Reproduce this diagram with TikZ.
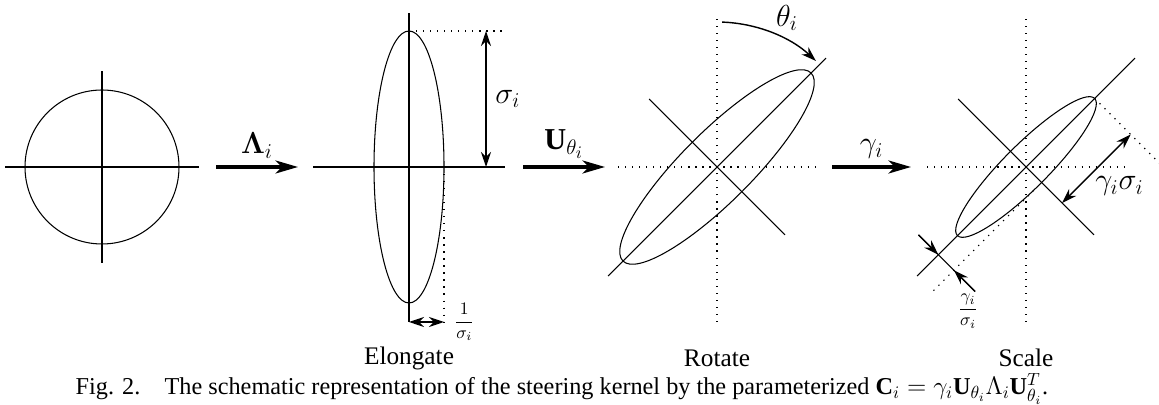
\documentclass[tikz,border=0pt]{standalone}
\usepackage{amsmath}
\usepackage{fontspec}
\setmainfont{Liberation Serif}
\usetikzlibrary{arrows.meta, calc}
\tikzset{
  every picture/.style={line width=0.6pt},
  axis/.style={line width=0.6pt},
  dotline/.style={line width=0.7pt, dash pattern=on 0.7pt off 3.3pt},
  maparrow/.style={-{Stealth[length=4.5mm, width=2.6mm, inset=1.3mm]}, line width=1.8pt},
  dimarrow/.style={{Stealth[length=3mm, width=2mm, inset=1mm]}-{Stealth[length=3mm, width=2mm, inset=1mm]}, line width=0.8pt},
  onehead/.style={-{Stealth[length=3mm, width=2mm, inset=1mm]}, line width=0.8pt},
  lbl/.style={font=\LARGE, inner sep=1pt},
  fraclbl/.style={font=\normalsize, inner sep=1pt},
  panel/.style={font=\fontsize{14.4}{16}\selectfont, inner sep=0pt},
  captext/.style={font=\fontsize{13.8}{15}\selectfont, inner sep=0pt},
}

\begin{document}
\begin{tikzpicture}[x=0.02cm, y=0.02cm]
  \useasboundingbox (0,0) rectangle (1159,405);
  \coordinate (c1) at (102,238); \coordinate (c2) at (409,238);
  \coordinate (c3) at (717,238); \coordinate (c4) at (1026,238);
  % (a) circle
  \draw[axis] (c1) circle (77);
  \draw[axis] ($(c1)+(-97,0)$) -- ($(c1)+(97,0)$);
  \draw[axis] ($(c1)+(0,-96)$) -- ($(c1)+(0,96)$);
  \coordinate (a1s) at (216,238); \coordinate (a1e) at (298,238);
  \draw[maparrow] (a1s) -- node[lbl, above=3pt] (lam) {$\boldsymbol{\Lambda}_i$} (a1e);
  % (b) Elongate
  \draw[axis] (c2) ellipse [x radius=35, y radius=136];
  \draw[axis] ($(c2)+(-96,0)$) -- ($(c2)+(96,0)$);
  \draw[axis] ($(c2)+(0,-155)$) -- ($(c2)+(0,154)$);
  \coordinate (top) at ($(c2)+(0,136)$); \coordinate (topr) at ($(c2)+(98,136)$);
  \draw[dotline] (top) -- (topr);
  \coordinate (sa) at ($(c2)+(77,136)$); \coordinate (sb) at ($(c2)+(77,0)$);
  \draw[dimarrow] (sa) -- node[lbl, right=4pt] (sig) {$\sigma_i$} (sb);
  \coordinate (wr) at ($(c2)+(35,0)$); \coordinate (wrb) at ($(c2)+(35,-155)$);
  \draw[dotline] (wr) -- (wrb);
  \coordinate (wl) at ($(c2)+(0,-155)$);
  \draw[dimarrow] (wl) -- (wrb);
  \node[fraclbl, anchor=west] (isig) at ($(wrb)+(8,0)$) {$\dfrac{1}{\sigma_i}$};
  \coordinate (a2s) at (523,238); \coordinate (a2e) at (605,238);
  \draw[maparrow] (a2s) -- node[lbl, above=3pt] (ut) {$\mathbf{U}_{\theta_i}$} (a2e);
  % (c) Rotate and (d) Scale share the crossed axes
  \foreach \c in {c3, c4} {
    \draw[dotline] ($(\c)+(0,-155)$) -- ($(\c)+(0,154)$);
    \draw[dotline] ($(\c)+(-99,0)$) -- ($(\c)+(99,0)$);
    \draw[axis] ($(\c)+(225:154)$) -- ($(\c)+(45:154)$);
    \draw[axis] ($(\c)+(135:96)$) -- ($(\c)+(-45:96)$);
  }
  \draw[axis] (c3) ellipse [x radius=133, y radius=35, rotate=45];
  \coordinate (th1) at ($(c3)+(88:145)$); \coordinate (th2) at ($(c3)+(47:145)$);
  \draw[onehead] (th1) arc[start angle=88, end angle=47, radius=145];
  \node[lbl] (theta) at (787,387) {$\theta_i$};
  \coordinate (a3s) at (832,238); \coordinate (a3e) at (911,238);
  \draw[maparrow] (a3s) -- node[lbl, above=3pt] (gam) {$\gamma_i$} (a3e);
  % (d) Scale
  \draw[axis] (c4) ellipse [x radius=97, y radius=22, rotate=45];
  \coordinate (tip) at ($(c4)+(45:97)$);
  \draw[dotline] (tip) -- ++(-45:92);
  \coordinate (ga) at ($(c4)+(-45:51)$); \coordinate (gb) at ($(ga)+(45:97)$);
  \draw[dimarrow] (ga) -- (gb);
  \node[lbl, anchor=west] (gs) at (1093,219) {$\gamma_i\sigma_i$};
  \coordinate (tg) at ($(c4)+(-45:22)$);
  \draw[dotline] ($(tg)+(225:11)$) -- ($(tg)+(225:153)$);
  \coordinate (mk) at ($(c4)+(225:124)$);
  \draw[axis] ($(mk)+(135:28)$) -- ($(mk)+(-45:52)$);
  \draw[onehead] ($(mk)+(135:28)$) -- (mk);
  \draw[onehead] ($(mk)+(-45:52)$) -- ($(mk)+(-45:22)$);
  \node[fraclbl] (gos) at (968,94) {$\dfrac{\gamma_i}{\sigma_i}$};
  % titles and caption
  \node[panel] (elo) at (409,47) {Elongate};
  \node[panel] (rot) at (717,47) {Rotate};
  \node[panel] (sca) at (1026,47) {Scale};
  \node[captext] (cap) at (562,16) {Fig. 2.\quad The schematic representation of the steering kernel by the parameterized $\mathbf{C}_i=\gamma_i\mathbf{U}_{\theta_i}\Lambda_i\mathbf{U}_{\theta_i}^T$.};
\end{tikzpicture}
\end{document}
